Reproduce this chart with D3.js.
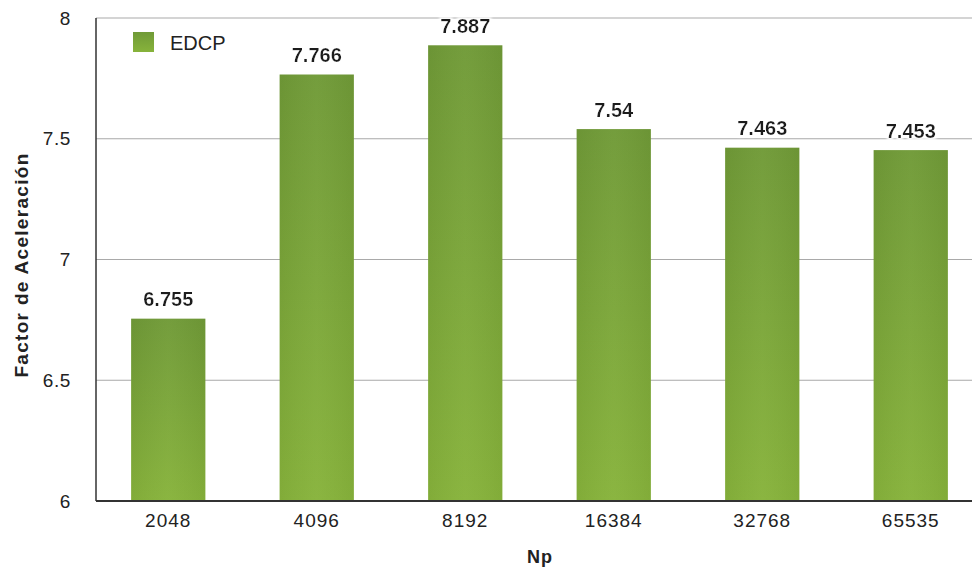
<!DOCTYPE html>
<html>
<head>
<meta charset="utf-8">
<script src="https://cdn.jsdelivr.net/npm/d3@7"></script>
<style>
  html, body { margin: 0; padding: 0; background: #fff; }
  svg { display: block; font-family: "Liberation Sans", Arial, Helvetica, sans-serif; }
</style>
</head>
<body>
<svg id="chart" width="972" height="571"></svg>
<script>
// Speed-up factor per problem size
const categories = ["2048", "4096", "8192", "16384", "32768", "65535"];
const edcp = [6.755, 7.766, 7.887, 7.54, 7.463, 7.453];
const yTicks = [6, 6.5, 7, 7.5, 8];
const yTickLabels = ["6", "6.5", "7", "7.5", "8"];
const seriesName = "EDCP";
const xTitle = "Np";
const yTitle = "Factor de Aceleración";

const svg = d3.select("#chart");
const W = 972, H = 571;
const plot = { left: 96, right: 985, top: 18, bottom: 501 };

const x = d3.scaleBand()
  .domain(categories)
  .range([94, 985])
  .paddingInner(0.5)
  .paddingOuter(0.25);

const y = d3.scaleLinear().domain([6, 8]).range([plot.bottom, plot.top]);

// Bar gradient
const defs = svg.append("defs");
const grad = defs.append("linearGradient")
  .attr("id", "barGrad").attr("x1", 0).attr("y1", 0).attr("x2", 0).attr("y2", 1);
grad.append("stop").attr("offset", "0%").attr("stop-color", "#709a37");
grad.append("stop").attr("offset", "100%").attr("stop-color", "#87b33b");

const hgrad = defs.append("linearGradient")
  .attr("id", "barShade").attr("x1", 0).attr("y1", 0).attr("x2", 1).attr("y2", 0);
hgrad.append("stop").attr("offset", "0%").attr("stop-color", "#000").attr("stop-opacity", 0.04);
hgrad.append("stop").attr("offset", "50%").attr("stop-color", "#fff").attr("stop-opacity", 0.03);
hgrad.append("stop").attr("offset", "100%").attr("stop-color", "#000").attr("stop-opacity", 0.04);

const glow = defs.append("filter").attr("id", "glow")
  .attr("x", "-20%").attr("y", "-40%").attr("width", "140%").attr("height", "180%");
glow.append("feMorphology").attr("in", "SourceAlpha").attr("operator", "dilate").attr("radius", 1.5).attr("result", "d");
glow.append("feGaussianBlur").attr("in", "d").attr("stdDeviation", 1.2).attr("result", "b");
glow.append("feFlood").attr("flood-color", "#ffffff").attr("flood-opacity", 0.95);
glow.append("feComposite").attr("in2", "b").attr("operator", "in").attr("result", "w");
const merge = glow.append("feMerge");
merge.append("feMergeNode").attr("in", "w");
merge.append("feMergeNode").attr("in", "SourceGraphic");

// Gridlines
svg.append("g")
  .selectAll("line")
  .data(yTicks.filter(t => t !== 6))
  .join("line")
  .attr("x1", plot.left).attr("x2", W)
  .attr("y1", d => y(d)).attr("y2", d => y(d))
  .attr("stroke", "#a9a9a9").attr("stroke-width", 1.2);

// Bars
const bars = svg.append("g");
bars.selectAll("rect.bar")
  .data(edcp)
  .join("rect")
  .attr("class", "bar")
  .attr("x", (d, i) => x(categories[i]))
  .attr("width", x.bandwidth())
  .attr("y", d => y(d))
  .attr("height", d => y(6) - y(d))
  .attr("fill", "url(#barGrad)");
bars.selectAll("rect.shade")
  .data(edcp)
  .join("rect")
  .attr("class", "shade")
  .attr("x", (d, i) => x(categories[i]))
  .attr("width", x.bandwidth())
  .attr("y", d => y(d))
  .attr("height", d => y(6) - y(d))
  .attr("fill", "url(#barShade)");

// Value labels
svg.append("g")
  .selectAll("text")
  .data(edcp)
  .join("text")
  .attr("x", (d, i) => x(categories[i]) + x.bandwidth() / 2)
  .attr("y", d => y(d) - 12.5)
  .attr("text-anchor", "middle")
  .attr("font-size", 20)
  .attr("font-weight", "bold")
  .attr("fill", "#1a1a1a")
  .attr("filter", "url(#glow)")
  .text(d => String(d));

// Axis lines
svg.append("line")
  .attr("x1", plot.left).attr("x2", plot.left)
  .attr("y1", plot.top).attr("y2", plot.bottom)
  .attr("stroke", "#333").attr("stroke-width", 1.5);
svg.append("line")
  .attr("x1", plot.left).attr("x2", W)
  .attr("y1", plot.bottom).attr("y2", plot.bottom)
  .attr("stroke", "#333").attr("stroke-width", 2);

// Y axis tick labels
const yAxis = d3.axisLeft(y)
  .tickValues(yTicks)
  .tickFormat((d, i) => yTickLabels[i])
  .tickSize(0)
  .tickPadding(25);
const gy = svg.append("g").attr("transform", `translate(${plot.left},0)`).call(yAxis);
gy.select(".domain").remove();
gy.selectAll("text")
  .attr("font-size", 19)
  .attr("letter-spacing", 0.6)
  .attr("font-family", "'Liberation Sans', Arial, sans-serif")
  .attr("fill", "#222");

// X axis tick labels
const xAxis = d3.axisBottom(x).tickSize(0).tickPadding(13);
const gx = svg.append("g").attr("transform", `translate(0,${plot.bottom})`).call(xAxis);
gx.select(".domain").remove();
gx.selectAll("text")
  .attr("font-size", 19)
  .attr("letter-spacing", 1)
  .attr("font-family", "'Liberation Sans', Arial, sans-serif")
  .attr("fill", "#222");

// Axis titles
svg.append("text")
  .attr("x", 540).attr("y", 563)
  .attr("text-anchor", "middle")
  .attr("font-size", 18).attr("font-weight", "bold").attr("letter-spacing", 1).attr("fill", "#222")
  .text(xTitle);
svg.append("text")
  .attr("transform", `translate(28,265) rotate(-90)`)
  .attr("text-anchor", "middle")
  .attr("font-size", 19).attr("font-weight", "bold").attr("letter-spacing", 1.3).attr("fill", "#222")
  .text(yTitle);

// Legend
const lg = svg.append("g").attr("transform", "translate(133,32)");
lg.append("rect").attr("width", 21).attr("height", 20).attr("fill", "url(#barGrad)");
lg.append("text").attr("x", 37).attr("y", 18)
  .attr("font-size", 20).attr("fill", "#222")
  .text(seriesName);
</script>
</body>
</html>
